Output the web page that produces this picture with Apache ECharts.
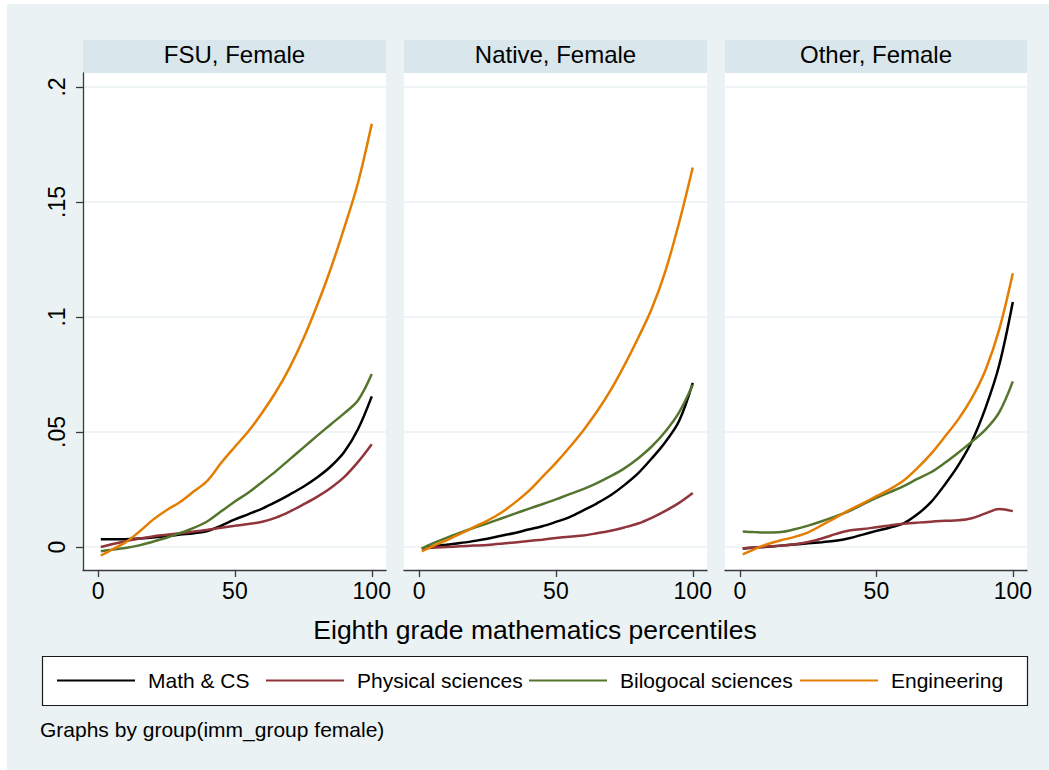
<!DOCTYPE html>
<html>
<head>
<meta charset="utf-8">
<script src="https://cdn.jsdelivr.net/npm/echarts@6/dist/echarts.min.js"></script>
<style>
  html, body { margin: 0; padding: 0; background: #ffffff; }
  #chart { width: 1049px; height: 770px; }
</style>
</head>
<body>
<div id="chart"></div>
<script>
// Eighth grade mathematics percentile (x) for every smoothed point
const percentiles = [1, 5, 10, 15, 20, 25, 30, 35, 40, 45, 50, 55, 60, 65, 70, 75, 80, 85, 90, 95, 100];

const panelTitles = ['FSU, Female', 'Native, Female', 'Other, Female'];
const fieldNames = ['Math & CS', 'Physical sciences', 'Bilogocal sciences', 'Engineering'];
const fieldColors = ['#000000', '#90353B', '#55752F', '#E37E00'];

// FSU, Female
const fsuMath = [0.0034, 0.0034, 0.0034, 0.0037, 0.0041, 0.0047, 0.0054, 0.0060, 0.0069, 0.0093, 0.0120, 0.0143, 0.0167, 0.0196, 0.0228, 0.0262, 0.0302, 0.0350, 0.0414, 0.0513, 0.0655];
const fsuPhys = [0.0000, 0.0012, 0.0025, 0.0036, 0.0046, 0.0053, 0.0060, 0.0067, 0.0075, 0.0084, 0.0092, 0.0100, 0.0110, 0.0128, 0.0154, 0.0185, 0.0218, 0.0257, 0.0305, 0.0370, 0.0447];
const fsuBio  = [-0.0018, -0.0012, -0.0004, 0.0007, 0.0023, 0.0040, 0.0061, 0.0083, 0.0112, 0.0155, 0.0198, 0.0237, 0.0283, 0.0330, 0.0381, 0.0432, 0.0483, 0.0533, 0.0582, 0.0638, 0.0752];
const fsuEng  = [-0.0037, -0.0012, 0.0020, 0.0066, 0.0118, 0.0160, 0.0196, 0.0242, 0.0289, 0.0366, 0.0436, 0.0504, 0.0585, 0.0675, 0.0780, 0.0905, 0.1050, 0.1210, 0.1390, 0.1585, 0.1840];

// Native, Female
const nativeMath = [-0.0007, 0.0002, 0.0010, 0.0017, 0.0026, 0.0036, 0.0049, 0.0061, 0.0076, 0.0090, 0.0109, 0.0130, 0.0159, 0.0190, 0.0225, 0.0269, 0.0320, 0.0385, 0.0457, 0.0548, 0.0714];
const nativePhys = [-0.0007, -0.0003, 0.0000, 0.0003, 0.0006, 0.0009, 0.0014, 0.0020, 0.0026, 0.0032, 0.0039, 0.0045, 0.0050, 0.0060, 0.0071, 0.0085, 0.0102, 0.0127, 0.0157, 0.0192, 0.0235];
const nativeBio  = [-0.0006, 0.0016, 0.0040, 0.0062, 0.0083, 0.0103, 0.0124, 0.0145, 0.0166, 0.0186, 0.0207, 0.0230, 0.0252, 0.0278, 0.0308, 0.0342, 0.0385, 0.0437, 0.0502, 0.0585, 0.0705];
const nativeEng  = [-0.0019, 0.0004, 0.0029, 0.0057, 0.0086, 0.0115, 0.0149, 0.0193, 0.0243, 0.0304, 0.0366, 0.0434, 0.0507, 0.0589, 0.0682, 0.0790, 0.0908, 0.1036, 0.1200, 0.1410, 0.1650];

// Other, Female
const otherMath = [-0.0006, -0.0003, 0.0001, 0.0006, 0.0011, 0.0016, 0.0021, 0.0027, 0.0038, 0.0054, 0.0070, 0.0085, 0.0103, 0.0142, 0.0195, 0.0270, 0.0355, 0.0460, 0.0605, 0.0790, 0.1065];
const otherPhys = [-0.0006, -0.0002, 0.0002, 0.0006, 0.0012, 0.0022, 0.0037, 0.0056, 0.0072, 0.0078, 0.0086, 0.0094, 0.0101, 0.0106, 0.0110, 0.0114, 0.0116, 0.0125, 0.0146, 0.0165, 0.0156];
const otherBio  = [0.0067, 0.0065, 0.0063, 0.0065, 0.0077, 0.0093, 0.0112, 0.0133, 0.0156, 0.0185, 0.0214, 0.0239, 0.0265, 0.0296, 0.0325, 0.0365, 0.0410, 0.0458, 0.0510, 0.0585, 0.0720];
const otherEng  = [-0.0032, -0.0011, 0.0012, 0.0029, 0.0044, 0.0064, 0.0095, 0.0127, 0.0160, 0.0190, 0.0221, 0.0252, 0.0289, 0.0343, 0.0405, 0.0478, 0.0555, 0.0648, 0.0770, 0.0945, 0.1190];

const panelSeries = [
  [fsuMath, fsuPhys, fsuBio, fsuEng],
  [nativeMath, nativePhys, nativeBio, nativeEng],
  [otherMath, otherPhys, otherBio, otherEng]
];

const xTicks = [0, 50, 100];
const yTicks = [0, 0.05, 0.1, 0.15, 0.2];

const xTitle = 'Eighth grade mathematics percentiles';
const noteText = 'Graphs by group(imm_group female)';

const FONT = 'Liberation Sans, Arial, Helvetica, sans-serif';
const BG = '#EAF2F3';
const HEADER = '#D9E6EB';
const AXIS = '#3a3a3a';

// panel geometry (pixels)
const panelLeft = [83, 404, 725];
const panelWidth = [303, 303, 302];
const panelTop = 73;
const panelHeight = 497;
const headerTop = 40;
const headerHeight = 33;

const grids = [], xAxes = [], yAxes = [], series = [];

panelTitles.forEach((title, p) => {
  grids.push({
    left: panelLeft[p], top: panelTop, width: panelWidth[p], height: panelHeight,
    show: true, backgroundColor: '#ffffff', borderWidth: 0, containLabel: false
  });
  xAxes.push({
    type: 'value', gridIndex: p, min: -5.5, max: 105.2,
    axisLine: { show: true, onZero: false, lineStyle: { color: AXIS, width: 1.3 } },
    axisTick: { show: true, customValues: xTicks, length: 7, lineStyle: { color: AXIS, width: 1.3 } },
    axisLabel: { show: true, customValues: xTicks, fontSize: 23, color: '#000', fontFamily: FONT, margin: 9 },
    splitLine: { show: false }
  });
  yAxes.push({
    type: 'value', gridIndex: p, min: -0.01, max: 0.2061,
    axisLine: { show: p === 0, onZero: false, lineStyle: { color: AXIS, width: 1.3 } },
    axisTick: { show: p === 0, customValues: yTicks, length: 7, lineStyle: { color: AXIS, width: 1.3 } },
    axisLabel: {
      show: p === 0, customValues: yTicks, rotate: 90, fontSize: 23, color: '#000',
      fontFamily: FONT, margin: 15,
      formatter: v => (v === 0 ? '0' : String(+v.toFixed(2)).replace(/^0/, ''))
    },
    splitLine: { show: true, lineStyle: { color: BG, width: 1.6 } }
  });
  panelSeries[p].forEach((vals, s) => {
    series.push({
      type: 'line', name: fieldNames[s], xAxisIndex: p, yAxisIndex: p,
      data: percentiles.map((x, i) => [x, vals[i]]),
      smooth: 0.35, symbol: 'none', showSymbol: false,
      lineStyle: { color: fieldColors[s], width: 2.5 },
      itemStyle: { color: fieldColors[s] },
      z: 2 + s, animation: false
    });
  });
});

// legend columns: start of each key line
const legendLeft = [57, 266, 529, 800];
const legends = fieldNames.map((name, i) => ({
  left: legendLeft[i], top: 670, padding: 0, orient: 'horizontal',
  data: [name], icon: 'rect', itemWidth: 78, itemHeight: 2,
  selectedMode: false,
  textStyle: { fontSize: 21, color: '#000', fontFamily: FONT, padding: [0, 0, 0, 8] }
}));

const graphics = [
  { type: 'rect', z: -10, silent: true, shape: { x: 7, y: 4, width: 1042, height: 766 }, style: { fill: BG } },
  { type: 'rect', z: -5, silent: true, shape: { x: 42.5, y: 656.5, width: 985, height: 49 }, style: { fill: '#ffffff', stroke: '#1a1a1a', lineWidth: 1.2 } },
  {
    type: 'text', x: 535, y: 630, silent: true,
    style: { text: xTitle, fontSize: 26.5, fontFamily: FONT, fill: '#000', textAlign: 'center', textVerticalAlign: 'middle' }
  },
  {
    type: 'text', x: 40, y: 729, silent: true,
    style: { text: noteText, fontSize: 21, fontFamily: FONT, fill: '#000', textAlign: 'left', textVerticalAlign: 'middle' }
  }
];
panelTitles.forEach((title, p) => {
  graphics.push({
    type: 'rect', z: -5, silent: true,
    shape: { x: panelLeft[p], y: headerTop, width: panelWidth[p], height: headerHeight },
    style: { fill: HEADER }
  });
  graphics.push({
    type: 'text', silent: true,
    x: panelLeft[p] + panelWidth[p] / 2, y: headerTop + headerHeight / 2 - 2,
    style: { text: title, fontSize: 24, fontFamily: FONT, fill: '#000', textAlign: 'center', textVerticalAlign: 'middle' }
  });
});

const chart = echarts.init(document.getElementById('chart'), null, { renderer: 'svg' });
chart.setOption({
  animation: false,
  backgroundColor: '#ffffff',
  grid: grids,
  xAxis: xAxes,
  yAxis: yAxes,
  legend: legends,
  graphic: graphics,
  series: series
});
</script>
</body>
</html>
